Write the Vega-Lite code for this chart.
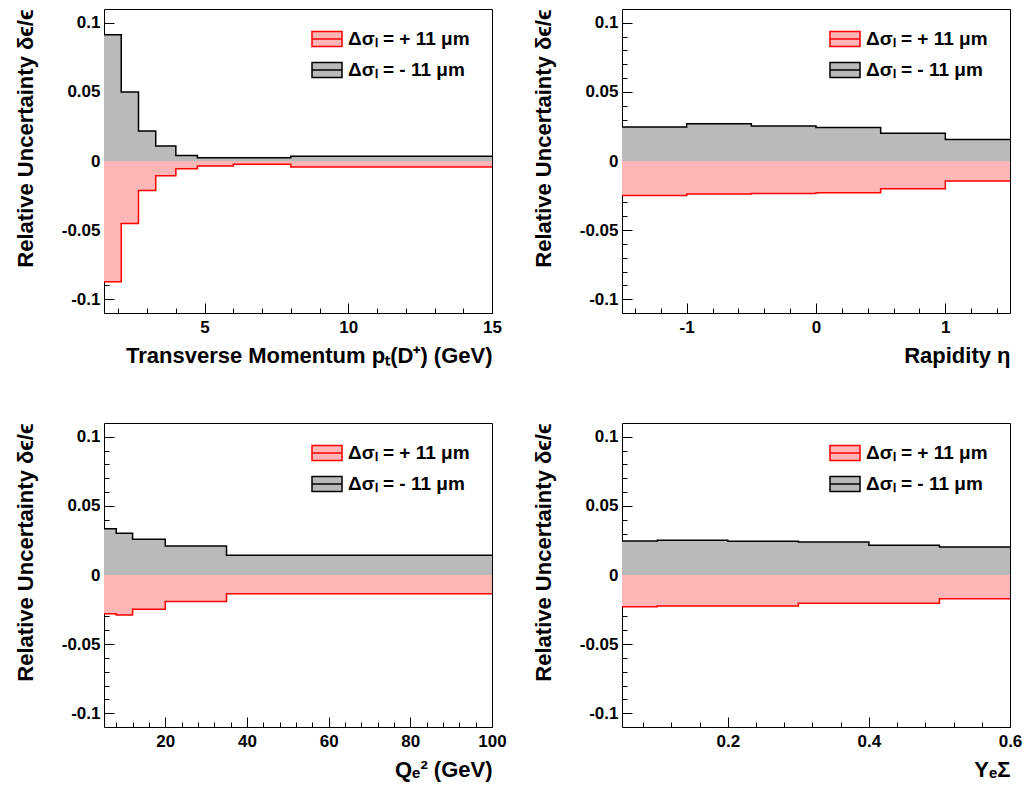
{
  "$schema": "https://vega.github.io/schema/vega-lite/v6.json",
  "background": "white",
  "padding": {"left": 13, "top": 8, "right": 5, "bottom": 5},
  "autosize": {"type": "pad"},
  "columns": 2,
  "bounds": "flush",
  "spacing": {"row": 110, "column": 130},
  "config": {
    "view": {"stroke": "black", "strokeWidth": 1},
    "axis": {"domain": false, "grid": false, "labelFont": "Liberation Sans", "labelFontWeight": "bold", "labelFontSize": 17, "titleFont": "Liberation Sans", "titleFontWeight": "bold", "titleFontSize": 22, "tickColor": "black", "labelColor": "black", "titleColor": "black", "labelFlush": false, "labelOverlap": false, "tickWidth": 1, "tickCount": 200},
    "axisX": {"labelPadding": 16, "titlePadding": 5, "titleAnchor": "end"},
    "axisY": {"labelPadding": 14, "titlePadding": 24, "titleAnchor": "end"},
    "legend": {"orient": "none", "legendX": 207, "legendY": 14, "title": null, "symbolType": "M-1,-0.5H1V0.5H-1Z M-1,0H1", "symbolSize": 900, "symbolStrokeWidth": 1.5, "labelFont": "Liberation Sans", "labelFontWeight": "bold", "labelFontSize": 19, "labelColor": "black", "rowPadding": 4, "labelOffset": 5, "padding": 0}
  },
  "datasets": {
    "pt": [
      {"series": "minus", "i": 0, "lo": 1.5, "hi": 2.1, "v": 0.0913},
      {"series": "minus", "i": 1, "lo": 2.1, "hi": 2.7, "v": 0.05},
      {"series": "minus", "i": 2, "lo": 2.7, "hi": 3.3, "v": 0.0217},
      {"series": "minus", "i": 3, "lo": 3.3, "hi": 4.0, "v": 0.0109},
      {"series": "minus", "i": 4, "lo": 4.0, "hi": 4.75, "v": 0.0039},
      {"series": "minus", "i": 5, "lo": 4.75, "hi": 6, "v": 0.0024},
      {"series": "minus", "i": 6, "lo": 6, "hi": 8, "v": 0.0024},
      {"series": "minus", "i": 7, "lo": 8, "hi": 15, "v": 0.0034},
      {"series": "plus", "i": 0, "lo": 1.5, "hi": 2.1, "v": -0.0874},
      {"series": "plus", "i": 1, "lo": 2.1, "hi": 2.7, "v": -0.0452},
      {"series": "plus", "i": 2, "lo": 2.7, "hi": 3.3, "v": -0.0213},
      {"series": "plus", "i": 3, "lo": 3.3, "hi": 4.0, "v": -0.0106},
      {"series": "plus", "i": 4, "lo": 4.0, "hi": 4.75, "v": -0.0056},
      {"series": "plus", "i": 5, "lo": 4.75, "hi": 6, "v": -0.0036},
      {"series": "plus", "i": 6, "lo": 6, "hi": 8, "v": -0.0024},
      {"series": "plus", "i": 7, "lo": 8, "hi": 15, "v": -0.0043}
    ],
    "eta": [
      {"series": "minus", "i": 0, "lo": -1.5, "hi": -1.0, "v": 0.0246},
      {"series": "minus", "i": 1, "lo": -1.0, "hi": -0.5, "v": 0.027},
      {"series": "minus", "i": 2, "lo": -0.5, "hi": 0.0, "v": 0.0254},
      {"series": "minus", "i": 3, "lo": 0.0, "hi": 0.5, "v": 0.0242},
      {"series": "minus", "i": 4, "lo": 0.5, "hi": 1.0, "v": 0.02},
      {"series": "minus", "i": 5, "lo": 1.0, "hi": 1.5, "v": 0.0155},
      {"series": "plus", "i": 0, "lo": -1.5, "hi": -1.0, "v": -0.025},
      {"series": "plus", "i": 1, "lo": -1.0, "hi": -0.5, "v": -0.0238},
      {"series": "plus", "i": 2, "lo": -0.5, "hi": 0.0, "v": -0.0236},
      {"series": "plus", "i": 3, "lo": 0.0, "hi": 0.5, "v": -0.023},
      {"series": "plus", "i": 4, "lo": 0.5, "hi": 1.0, "v": -0.02},
      {"series": "plus", "i": 5, "lo": 1.0, "hi": 1.5, "v": -0.0144}
    ],
    "q2": [
      {"series": "minus", "i": 0, "lo": 5, "hi": 8, "v": 0.0335},
      {"series": "minus", "i": 1, "lo": 8, "hi": 12, "v": 0.0302},
      {"series": "minus", "i": 2, "lo": 12, "hi": 20, "v": 0.0258},
      {"series": "minus", "i": 3, "lo": 20, "hi": 35, "v": 0.021},
      {"series": "minus", "i": 4, "lo": 35, "hi": 100, "v": 0.0143},
      {"series": "plus", "i": 0, "lo": 5, "hi": 8, "v": -0.0281},
      {"series": "plus", "i": 1, "lo": 8, "hi": 12, "v": -0.0289},
      {"series": "plus", "i": 2, "lo": 12, "hi": 20, "v": -0.0248},
      {"series": "plus", "i": 3, "lo": 20, "hi": 35, "v": -0.0192},
      {"series": "plus", "i": 4, "lo": 35, "hi": 100, "v": -0.0136}
    ],
    "ye": [
      {"series": "minus", "i": 0, "lo": 0.05, "hi": 0.1, "v": 0.0246},
      {"series": "minus", "i": 1, "lo": 0.1, "hi": 0.2, "v": 0.0251},
      {"series": "minus", "i": 2, "lo": 0.2, "hi": 0.3, "v": 0.0244},
      {"series": "minus", "i": 3, "lo": 0.3, "hi": 0.4, "v": 0.0239},
      {"series": "minus", "i": 4, "lo": 0.4, "hi": 0.5, "v": 0.0215},
      {"series": "minus", "i": 5, "lo": 0.5, "hi": 0.6, "v": 0.0203},
      {"series": "plus", "i": 0, "lo": 0.05, "hi": 0.1, "v": -0.023},
      {"series": "plus", "i": 1, "lo": 0.1, "hi": 0.2, "v": -0.0225},
      {"series": "plus", "i": 2, "lo": 0.2, "hi": 0.3, "v": -0.0225},
      {"series": "plus", "i": 3, "lo": 0.3, "hi": 0.4, "v": -0.0205},
      {"series": "plus", "i": 4, "lo": 0.4, "hi": 0.5, "v": -0.0205},
      {"series": "plus", "i": 5, "lo": 0.5, "hi": 0.6, "v": -0.0172}
    ]
  },
  "concat": [
    {
      "width": 388, "height": 304,
      "data": {"name": "pt"},
      "transform": [{"fold": ["lo", "hi"], "as": ["edge", "x"]}],
      "layer": [
        {
          "mark": {"type": "area"},
          "encoding": {
            "x": {"field": "x", "type": "quantitative", "scale": {"domain": [1.5, 15], "nice": false, "zero": false},
              "axis": {"values": [2,3,4,5,6,7,8,9,10,11,12,13,14,15], "title": "Transverse Momentum  pₜ(D⁺) (GeV)",
                "labelExpr": "datum.value % 5 == 0 ? format(datum.value, '~g') : ''",
                "tickSize": {"condition": {"test": "datum.value % 5 == 0", "value": -10}, "value": -5}}},
            "y": {"field": "v", "type": "quantitative", "scale": {"domain": [-0.11, 0.11], "nice": false, "zero": false},
              "axis": {"values": [-0.1,-0.09,-0.08,-0.07,-0.06,-0.05,-0.04,-0.03,-0.02,-0.01,0,0.01,0.02,0.03,0.04,0.05,0.06,0.07,0.08,0.09,0.1], "title": "Relative Uncertainty  δϵ/ϵ",
                "labelExpr": "abs(datum.value*20 - round(datum.value*20)) < 0.001 ? replace(format(datum.value, '~g'), '−', '-') : ''",
                "tickSize": {"condition": {"test": "abs(datum.value*20 - round(datum.value*20)) < 0.001", "value": -10}, "value": -5}}},
            "y2": {"datum": 0},
            "fill": {"field": "series", "type": "nominal", "scale": {"domain": ["plus", "minus"], "range": ["#ffb6b6", "#bababa"]},
              "legend": {"labelExpr": "datum.label == 'plus' ? 'Δσₗ = + 11 μm' : 'Δσₗ = - 11 μm'"}},
            "order": [{"field": "x", "type": "quantitative"}, {"field": "i", "type": "quantitative"}]
          }
        },
        {
          "mark": {"type": "line", "strokeWidth": 1.5},
          "encoding": {
            "x": {"field": "x", "type": "quantitative"},
            "y": {"field": "v", "type": "quantitative"},
            "stroke": {"field": "series", "type": "nominal", "scale": {"domain": ["plus", "minus"], "range": ["#ff0000", "#000000"]},
              "legend": {"labelExpr": "datum.label == 'plus' ? 'Δσₗ = + 11 μm' : 'Δσₗ = - 11 μm'"}},
            "order": [{"field": "x", "type": "quantitative"}, {"field": "i", "type": "quantitative"}]
          }
        }
      ]
    },
    {
      "width": 388, "height": 304,
      "data": {"name": "eta"},
      "transform": [{"fold": ["lo", "hi"], "as": ["edge", "x"]}],
      "layer": [
        {
          "mark": {"type": "area"},
          "encoding": {
            "x": {"field": "x", "type": "quantitative", "scale": {"domain": [-1.5, 1.5], "nice": false, "zero": false},
              "axis": {"values": [-1.4,-1.2,-1,-0.8,-0.6,-0.4,-0.2,0,0.2,0.4,0.6,0.8,1,1.2,1.4], "title": "Rapidity  η",
                "labelExpr": "abs(datum.value - round(datum.value)) < 0.001 ? replace(format(datum.value, '~g'), '−', '-') : ''",
                "tickSize": {"condition": {"test": "abs(datum.value - round(datum.value)) < 0.001", "value": -10}, "value": -5}}},
            "y": {"field": "v", "type": "quantitative", "scale": {"domain": [-0.11, 0.11], "nice": false, "zero": false},
              "axis": {"values": [-0.1,-0.09,-0.08,-0.07,-0.06,-0.05,-0.04,-0.03,-0.02,-0.01,0,0.01,0.02,0.03,0.04,0.05,0.06,0.07,0.08,0.09,0.1], "title": "Relative Uncertainty  δϵ/ϵ",
                "labelExpr": "abs(datum.value*20 - round(datum.value*20)) < 0.001 ? replace(format(datum.value, '~g'), '−', '-') : ''",
                "tickSize": {"condition": {"test": "abs(datum.value*20 - round(datum.value*20)) < 0.001", "value": -10}, "value": -5}}},
            "y2": {"datum": 0},
            "fill": {"field": "series", "type": "nominal", "scale": {"domain": ["plus", "minus"], "range": ["#ffb6b6", "#bababa"]},
              "legend": {"labelExpr": "datum.label == 'plus' ? 'Δσₗ = + 11 μm' : 'Δσₗ = - 11 μm'"}},
            "order": [{"field": "x", "type": "quantitative"}, {"field": "i", "type": "quantitative"}]
          }
        },
        {
          "mark": {"type": "line", "strokeWidth": 1.5},
          "encoding": {
            "x": {"field": "x", "type": "quantitative"},
            "y": {"field": "v", "type": "quantitative"},
            "stroke": {"field": "series", "type": "nominal", "scale": {"domain": ["plus", "minus"], "range": ["#ff0000", "#000000"]},
              "legend": {"labelExpr": "datum.label == 'plus' ? 'Δσₗ = + 11 μm' : 'Δσₗ = - 11 μm'"}},
            "order": [{"field": "x", "type": "quantitative"}, {"field": "i", "type": "quantitative"}]
          }
        }
      ]
    },
    {
      "width": 388, "height": 304,
      "data": {"name": "q2"},
      "transform": [{"fold": ["lo", "hi"], "as": ["edge", "x"]}],
      "layer": [
        {
          "mark": {"type": "area"},
          "encoding": {
            "x": {"field": "x", "type": "quantitative", "scale": {"domain": [5, 100], "nice": false, "zero": false},
              "axis": {"values": [8,12,16,20,24,28,32,36,40,44,48,52,56,60,64,68,72,76,80,84,88,92,96,100], "title": "Qₑ² (GeV)",
                "labelExpr": "datum.value % 20 == 0 ? format(datum.value, '~g') : ''",
                "tickSize": {"condition": {"test": "datum.value % 20 == 0", "value": -10}, "value": -5}}},
            "y": {"field": "v", "type": "quantitative", "scale": {"domain": [-0.11, 0.11], "nice": false, "zero": false},
              "axis": {"values": [-0.1,-0.09,-0.08,-0.07,-0.06,-0.05,-0.04,-0.03,-0.02,-0.01,0,0.01,0.02,0.03,0.04,0.05,0.06,0.07,0.08,0.09,0.1], "title": "Relative Uncertainty  δϵ/ϵ",
                "labelExpr": "abs(datum.value*20 - round(datum.value*20)) < 0.001 ? replace(format(datum.value, '~g'), '−', '-') : ''",
                "tickSize": {"condition": {"test": "abs(datum.value*20 - round(datum.value*20)) < 0.001", "value": -10}, "value": -5}}},
            "y2": {"datum": 0},
            "fill": {"field": "series", "type": "nominal", "scale": {"domain": ["plus", "minus"], "range": ["#ffb6b6", "#bababa"]},
              "legend": {"labelExpr": "datum.label == 'plus' ? 'Δσₗ = + 11 μm' : 'Δσₗ = - 11 μm'"}},
            "order": [{"field": "x", "type": "quantitative"}, {"field": "i", "type": "quantitative"}]
          }
        },
        {
          "mark": {"type": "line", "strokeWidth": 1.5},
          "encoding": {
            "x": {"field": "x", "type": "quantitative"},
            "y": {"field": "v", "type": "quantitative"},
            "stroke": {"field": "series", "type": "nominal", "scale": {"domain": ["plus", "minus"], "range": ["#ff0000", "#000000"]},
              "legend": {"labelExpr": "datum.label == 'plus' ? 'Δσₗ = + 11 μm' : 'Δσₗ = - 11 μm'"}},
            "order": [{"field": "x", "type": "quantitative"}, {"field": "i", "type": "quantitative"}]
          }
        }
      ]
    },
    {
      "width": 388, "height": 304,
      "data": {"name": "ye"},
      "transform": [{"fold": ["lo", "hi"], "as": ["edge", "x"]}],
      "layer": [
        {
          "mark": {"type": "area"},
          "encoding": {
            "x": {"field": "x", "type": "quantitative", "scale": {"domain": [0.05, 0.6], "nice": false, "zero": false},
              "axis": {"values": [0.08,0.12,0.16,0.2,0.24,0.28,0.32,0.36,0.4,0.44,0.48,0.52,0.56,0.6], "title": "YₑΣ",
                "labelExpr": "abs(datum.value*5 - round(datum.value*5)) < 0.001 ? format(datum.value, '~g') : ''",
                "tickSize": {"condition": {"test": "abs(datum.value*5 - round(datum.value*5)) < 0.001", "value": -10}, "value": -5}}},
            "y": {"field": "v", "type": "quantitative", "scale": {"domain": [-0.11, 0.11], "nice": false, "zero": false},
              "axis": {"values": [-0.1,-0.09,-0.08,-0.07,-0.06,-0.05,-0.04,-0.03,-0.02,-0.01,0,0.01,0.02,0.03,0.04,0.05,0.06,0.07,0.08,0.09,0.1], "title": "Relative Uncertainty  δϵ/ϵ",
                "labelExpr": "abs(datum.value*20 - round(datum.value*20)) < 0.001 ? replace(format(datum.value, '~g'), '−', '-') : ''",
                "tickSize": {"condition": {"test": "abs(datum.value*20 - round(datum.value*20)) < 0.001", "value": -10}, "value": -5}}},
            "y2": {"datum": 0},
            "fill": {"field": "series", "type": "nominal", "scale": {"domain": ["plus", "minus"], "range": ["#ffb6b6", "#bababa"]},
              "legend": {"labelExpr": "datum.label == 'plus' ? 'Δσₗ = + 11 μm' : 'Δσₗ = - 11 μm'"}},
            "order": [{"field": "x", "type": "quantitative"}, {"field": "i", "type": "quantitative"}]
          }
        },
        {
          "mark": {"type": "line", "strokeWidth": 1.5},
          "encoding": {
            "x": {"field": "x", "type": "quantitative"},
            "y": {"field": "v", "type": "quantitative"},
            "stroke": {"field": "series", "type": "nominal", "scale": {"domain": ["plus", "minus"], "range": ["#ff0000", "#000000"]},
              "legend": {"labelExpr": "datum.label == 'plus' ? 'Δσₗ = + 11 μm' : 'Δσₗ = - 11 μm'"}},
            "order": [{"field": "x", "type": "quantitative"}, {"field": "i", "type": "quantitative"}]
          }
        }
      ]
    }
  ],
  "resolve": {"scale": {"x": "independent", "y": "independent", "fill": "independent", "stroke": "independent"}}
}
